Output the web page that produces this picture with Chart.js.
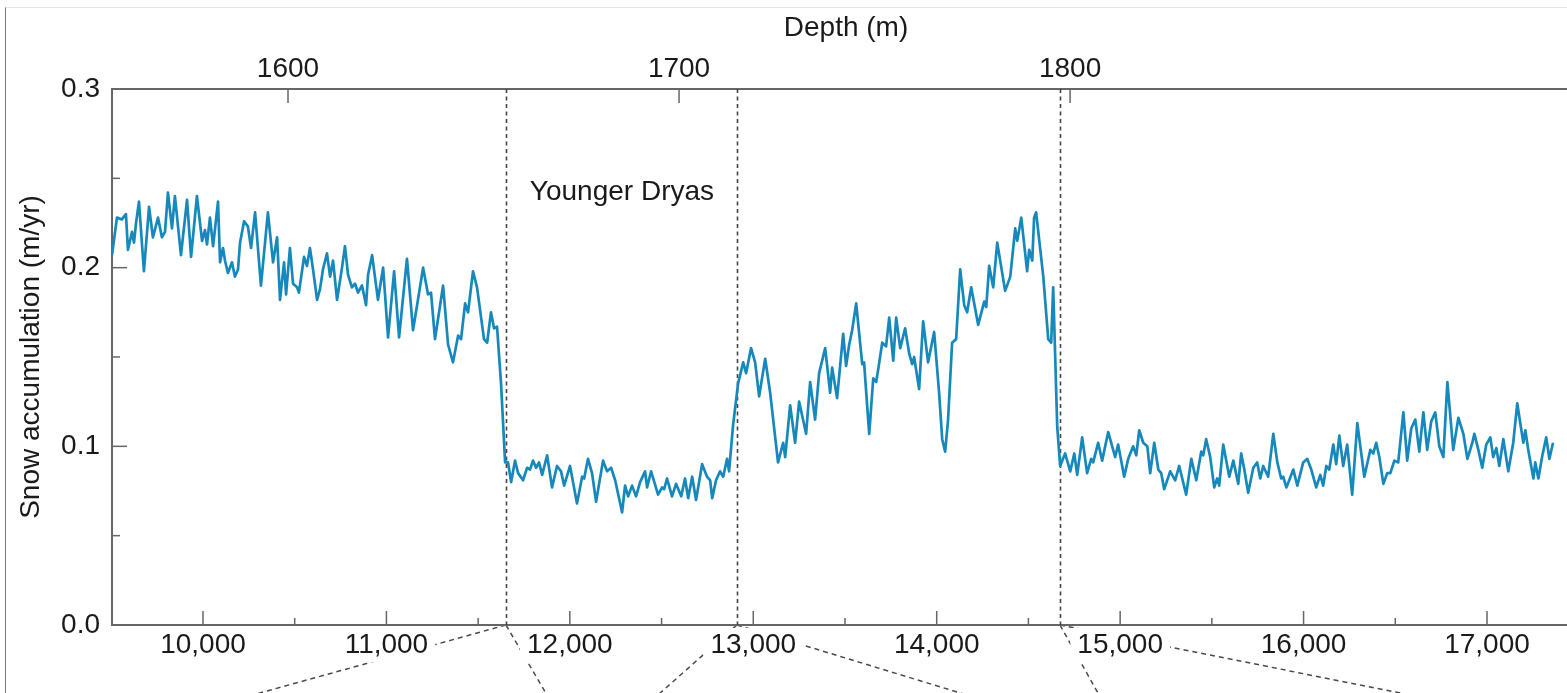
<!DOCTYPE html>
<html>
<head>
<meta charset="utf-8">
<title>Snow accumulation</title>
<script src="https://cdn.jsdelivr.net/npm/chart.js@4/dist/chart.umd.min.js"></script>
<style>
  html, body { margin: 0; padding: 0; background: #fff; width: 1567px; height: 693px; overflow: hidden; }
  #wrap { position: relative; width: 1567px; height: 693px; overflow: hidden; }
  #c { position: absolute; left: 0; top: 0; }
  #frame { position: absolute; left: 5px; top: 7px; right: 0; bottom: 0; border-left: 1px solid #7a7a7a; border-top: 1px solid #e6e6e6; pointer-events: none; }
</style>
</head>
<body>
<div id="wrap">
  <canvas id="c" width="1580" height="693"></canvas>
  <div id="frame"></div>
</div>
<script>
// ---- data (age in years BP, snow accumulation in m/yr) ----
const ages = [
  9504,9531,9558,9580,9591,9613,9624,9635,9651,9678,9706,9727,9755,9776,9793,9809,9831,9847,9880,9913,
  9935,9967,9995,10011,10022,10038,10055,10082,10093,10109,10120,10136,10158,10174,10191,10202,10224,10245,10262,10284,
  10316,10354,10382,10404,10420,10442,10453,10474,10491,10513,10523,10551,10567,10583,10600,10622,10638,10654,10676,10693,
  10709,10731,10758,10774,10791,10812,10829,10845,10867,10889,10900,10922,10954,10982,11009,11042,11069,11112,11145,11172,
  11200,11227,11243,11265,11309,11336,11363,11391,11407,11429,11445,11472,11494,11532,11549,11570,11587,11603,
  11625,11647,11663,11680,11701,11718,11745,11767,11783,11799,11816,11832,11849,11876,11903,11930,11952,11969,12001,12039,
  12067,12078,12099,12121,12143,12181,12203,12225,12247,12285,12301,12318,12339,12361,12383,12410,12421,12443,12481,12503,
  12514,12530,12557,12579,12607,12628,12645,12667,12688,12721,12748,12765,12776,12797,12819,12836,12857,12868,
  12890,12917,12945,12961,12988,13010,13032,13065,13092,13135,13163,13174,13201,13228,13250,13288,13310,13337,13359,13392,
  13419,13430,13457,13490,13506,13523,13539,13561,13594,13604,13632,13654,13670,13681,13703,13724,13741,13763,13779,13801,
  13828,13850,13866,13877,13904,13926,13953,13986,14013,14030,14046,14062,14084,14106,14128,14150,14166,14188,14226,14259,
  14270,14286,14308,14330,14373,14401,14428,14439,14461,14493,14504,14521,14531,14542,14581,14608,14624,14635,14657,
  14673,14700,14728,14750,14766,14793,14820,14842,14853,14880,14902,14935,14962,14973,14989,15022,15044,15071,15088,15104,
  15126,15148,15164,15186,15208,15224,15240,15273,15300,15322,15360,15388,15415,15442,15453,15469,15491,15513,15529,15540,
  15562,15595,15617,15644,15660,15677,15698,15726,15747,15764,15780,15807,15835,15857,15878,15889,15906,15922,15944,15966,
  15998,16020,16042,16069,16091,16107,16124,16140,16162,16178,16195,16216,16238,16265,16293,16331,16364,16380,16396,16413,
  16435,16456,16473,16495,16516,16544,16565,16587,16609,16631,16653,16674,16696,16718,16740,16762,16784,16816,16844,16871,
  16893,16920,16931,16953,16974,16996,17018,17034,17051,17067,17089,17116,17143,17165,17198,17209,17225,17253,17263,17280,
  17302,17323,17340,17360
];
const snowAccumulation = [
  0.207,0.228,0.227,0.230,0.210,0.220,0.214,0.225,0.237,0.198,0.234,0.217,0.228,0.217,0.220,0.242,0.222,0.240,0.207,0.238,
  0.206,0.240,0.215,0.221,0.213,0.228,0.212,0.237,0.203,0.211,0.204,0.197,0.203,0.195,0.199,0.214,0.226,0.223,0.211,0.231,
  0.190,0.231,0.203,0.217,0.182,0.203,0.185,0.211,0.191,0.189,0.186,0.206,0.201,0.211,0.199,0.182,0.188,0.199,0.208,0.195,
  0.204,0.182,0.200,0.212,0.196,0.189,0.191,0.186,0.190,0.179,0.196,0.207,0.182,0.200,0.161,0.198,0.161,0.205,0.165,0.182,
  0.200,0.185,0.186,0.160,0.190,0.157,0.147,0.162,0.160,0.180,0.175,0.198,0.189,0.160,0.158,0.175,0.166,0.167,
  0.135,0.091,0.091,0.080,0.092,0.085,0.081,0.088,0.087,0.092,0.088,0.091,0.084,0.095,0.077,0.089,0.086,0.078,0.089,0.068,
  0.083,0.082,0.093,0.085,0.069,0.092,0.086,0.088,0.081,0.063,0.078,0.072,0.078,0.072,0.080,0.086,0.077,0.086,0.073,0.077,
  0.076,0.082,0.072,0.079,0.072,0.082,0.071,0.083,0.070,0.090,0.083,0.081,0.071,0.081,0.086,0.083,0.093,0.086,
  0.112,0.135,0.147,0.141,0.155,0.147,0.128,0.149,0.130,0.091,0.102,0.094,0.123,0.102,0.125,0.107,0.136,0.115,0.141,0.155,
  0.130,0.144,0.127,0.163,0.145,0.157,0.165,0.180,0.146,0.147,0.107,0.138,0.136,0.143,0.158,0.156,0.172,0.148,0.172,0.155,
  0.166,0.152,0.146,0.150,0.132,0.170,0.147,0.164,0.130,0.104,0.097,0.115,0.158,0.160,0.199,0.179,0.175,0.189,0.168,0.181,
  0.178,0.201,0.189,0.214,0.187,0.195,0.222,0.215,0.228,0.198,0.210,0.204,0.228,0.231,0.195,0.160,0.158,0.189,0.111,
  0.089,0.096,0.086,0.096,0.084,0.105,0.085,0.093,0.091,0.102,0.092,0.108,0.098,0.094,0.101,0.083,0.093,0.100,0.095,0.109,
  0.102,0.100,0.085,0.102,0.087,0.085,0.076,0.086,0.081,0.089,0.073,0.093,0.081,0.097,0.095,0.104,0.094,0.077,0.082,0.078,
  0.101,0.083,0.092,0.079,0.096,0.087,0.074,0.088,0.091,0.082,0.089,0.083,0.107,0.091,0.082,0.083,0.077,0.081,0.087,0.078,
  0.091,0.093,0.087,0.077,0.084,0.078,0.089,0.087,0.101,0.090,0.106,0.089,0.101,0.073,0.113,0.083,0.098,0.096,0.102,0.094,
  0.079,0.085,0.085,0.092,0.091,0.119,0.092,0.110,0.115,0.097,0.119,0.098,0.114,0.119,0.100,0.094,0.136,0.098,0.116,0.107,
  0.093,0.102,0.107,0.098,0.088,0.101,0.105,0.094,0.099,0.089,0.104,0.086,0.102,0.124,0.102,0.109,0.098,0.082,0.091,0.082,
  0.095,0.105,0.093,0.102
];

// ---- axes ticks ----
const ageTicks = [10000, 11000, 12000, 13000, 14000, 15000, 16000, 17000];
const depthTicks = [1600, 1700, 1800];
const accTicks = [0.0, 0.1, 0.2, 0.3];

// ---- annotations ----
const boundaryAges = [11652, 12911, 14672];
const connectorLines = [[11652, 10270], [11652, 11875], [12911, 12480], [12911, 14165], [14672, 14885], [14672, 16580]];
const periodLabel = { text: 'Younger Dryas', age: 12284, value: 0.242 };

const FONT = "'Liberation Sans', Arial, Helvetica, sans-serif";
const TEXT = '#1a1a1a';
const AXIS = '#666666';

const decor = {
  id: 'decor',
  beforeDraw(chart) {
    const { ctx, chartArea } = chart;
    const xs = chart.scales.x;
    ctx.save();
    ctx.strokeStyle = '#4a4a4a';
    ctx.lineWidth = 1.5;
    ctx.setLineDash([5, 4]);
    connectorLines.forEach(([from, to]) => {
      ctx.beginPath();
      ctx.moveTo(xs.getPixelForValue(from), chartArea.bottom);
      ctx.lineTo(xs.getPixelForValue(to), chart.height + 2);
      ctx.stroke();
    });
    ctx.restore();
  },
  beforeDatasetsDraw(chart) {
    const { ctx, chartArea } = chart;
    const xs = chart.scales.x, ys = chart.scales.y;
    ctx.save();
    ctx.strokeStyle = '#444444';
    ctx.lineWidth = 1.6;
    ctx.setLineDash([4, 3.5]);
    boundaryAges.forEach(a => {
      const px = Math.round(xs.getPixelForValue(a)) + 0.5;
      ctx.beginPath();
      ctx.moveTo(px, chartArea.top);
      ctx.lineTo(px, chartArea.bottom);
      ctx.stroke();
    });
    ctx.setLineDash([]);
    ctx.fillStyle = TEXT;
    ctx.font = '28px ' + FONT;
    ctx.textAlign = 'center';
    ctx.textBaseline = 'middle';
    ctx.fillText(periodLabel.text, xs.getPixelForValue(periodLabel.age), ys.getPixelForValue(periodLabel.value));
    ctx.restore();
  },
  afterDatasetsDraw(chart) {
    const { ctx, chartArea } = chart;
    const xs = chart.scales.x, ys = chart.scales.y, xt = chart.scales.x2;
    const { top, bottom, left } = chartArea;
    const line = (x1, y1, x2, y2) => { ctx.beginPath(); ctx.moveTo(x1, y1); ctx.lineTo(x2, y2); ctx.stroke(); };
    ctx.save();
    ctx.strokeStyle = AXIS;
    ctx.lineWidth = 1.5;
    ageTicks.forEach(v => { const p = xs.getPixelForValue(v); line(p, bottom, p, bottom - 14); });
    for (let v = Math.ceil(xs.min / 500) * 500; v <= xs.max; v += 500) {
      if (v % 1000 !== 0) { const p = xs.getPixelForValue(v); line(p, bottom, p, bottom - 7); }
    }
    for (let i = 1; i < 6; i++) {
      const p = ys.getPixelForValue(i * 0.05);
      line(left, p, left + (i % 2 === 0 ? 15 : 8), p);
    }
    depthTicks.forEach(v => { const p = xt.getPixelForValue(v); line(p, top, p, top + 14); });
    ctx.restore();
  }
};

const tickFont = { family: FONT, size: 28 };

new Chart(document.getElementById('c'), {
  type: 'line',
  data: {
    datasets: [{
      data: ages.map((a, i) => ({ x: a, y: snowAccumulation[i] })),
      borderColor: 'rgb(22,136,188)',
      borderWidth: 2.7,
      pointRadius: 0,
      tension: 0,
      fill: false,
      borderJoinStyle: 'round'
    }]
  },
  options: {
    responsive: false,
    animation: false,
    layout: { padding: 0 },
    plugins: { legend: { display: false }, tooltip: { enabled: false } },
    scales: {
      x: {
        type: 'linear', position: 'bottom', min: 9504, max: 17507,
        grid: { display: false, drawTicks: false },
        border: { display: true, color: AXIS, width: 2 },
        ticks: {
          font: tickFont, color: TEXT, padding: 3, maxRotation: 0, autoSkip: false, includeBounds: false,
          showLabelBackdrop: true, backdropColor: '#ffffff',
          backdropPadding: { left: 7, right: 7, top: 0, bottom: 1 },
          callback: v => Number(v).toLocaleString('en-US')
        },
        afterBuildTicks: s => { s.ticks = ageTicks.map(v => ({ value: v })); },
        afterFit: s => { s.height = 68; }
      },
      x2: {
        type: 'linear', position: 'top', min: 1554.99, max: 1930.4,
        grid: { display: false, drawTicks: false },
        border: { display: true, color: AXIS, width: 2 },
        title: { display: true, text: 'Depth (m)', font: { family: FONT, size: 28 }, color: TEXT, padding: { top: 11, bottom: 0 } },
        ticks: { font: tickFont, color: TEXT, padding: 3, maxRotation: 0, autoSkip: false, includeBounds: false, callback: v => String(v) },
        afterBuildTicks: s => { s.ticks = depthTicks.map(v => ({ value: v })); },
        afterFit: s => { s.height = 89; }
      },
      y: {
        type: 'linear', position: 'left', min: 0, max: 0.3,
        grid: { display: false, drawTicks: false },
        border: { display: true, color: AXIS, width: 2 },
        title: { display: true, text: 'Snow accumulation (m/yr)', font: { family: FONT, size: 28 }, color: TEXT, padding: { top: 14, bottom: 0 } },
        ticks: { font: tickFont, color: TEXT, padding: 12, autoSkip: false, includeBounds: false, callback: v => Number(v).toFixed(1) },
        afterBuildTicks: s => { s.ticks = accTicks.map(v => ({ value: v })); },
        afterFit: s => { s.width = 112; }
      }
    }
  },
  plugins: [decor]
});
</script>
</body>
</html>
